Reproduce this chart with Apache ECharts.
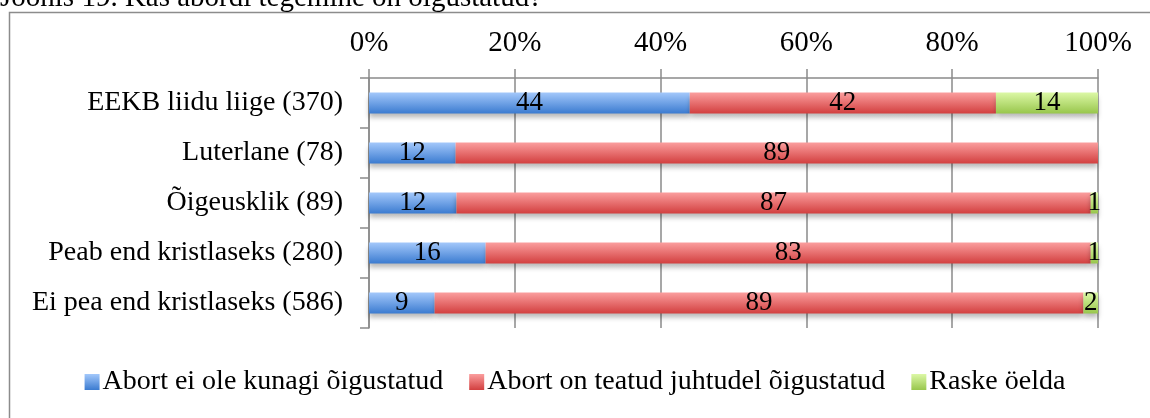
<!DOCTYPE html>
<html>
<head>
<meta charset="utf-8">
<script src="https://cdn.jsdelivr.net/npm/echarts@6/dist/echarts.min.js"></script>
<style>
html,body{margin:0;padding:0;background:#fff;}
#c{width:1150px;height:418px;}
</style>
</head>
<body>
<div id="c"></div>
<script>
const titleText = 'Joonis 19. Kas abordi tegemine on õigustatud?';
const categories = ['EEKB liidu liige (370)', 'Luterlane (78)', 'Õigeusklik (89)', 'Peab end kristlaseks (280)', 'Ei pea end kristlaseks (586)'];
const seriesNames = ['Abort ei ole kunagi õigustatud', 'Abort on teatud juhtudel õigustatud', 'Raske öelda'];
const neverJustified = [44, 12, 12, 16, 9];
const sometimesJustified = [42, 89, 87, 83, 89];
const hardToSay = [14, 0, 1, 1, 2];
const xTicks = [0, 20, 40, 60, 80, 100];

const raw = [neverJustified, sometimesJustified, hardToSay];
const totals = categories.map((_, i) => raw.reduce((s, a) => s + a[i], 0));
const gradients = [
  ['#a3c8fb', '#3b7bd0'],
  ['#fb9e9e', '#d23f3f'],
  ['#dcf8a6', '#98c64c']
];
const font = 'Liberation Serif';

const chart = echarts.init(document.getElementById('c'));
chart.setOption({
  animation: false,
  backgroundColor: '#fff',
  graphic: [
    { type: 'rect', shape: { x: 9.5, y: 12.5, width: 1200, height: 500 }, style: { fill: 'none', stroke: '#8c8c8c', lineWidth: 1.5 }, z: -1 },
    { type: 'text', x: 0, y: 13, style: { text: titleText, font: '29px "Liberation Serif"', fill: '#000', textVerticalAlign: 'bottom' } }
  ],
  grid: { left: 369, right: 52, top: 78, height: 250 },
  xAxis: {
    type: 'value', position: 'top', min: 0, max: 100, interval: 20,
    axisLine: { show: true, lineStyle: { color: '#8a8a8a', width: 1.5 } },
    axisTick: { show: true, inside: false, length: 9, lineStyle: { color: '#8a8a8a', width: 1.5 } },
    splitLine: { show: true, lineStyle: { color: '#8a8a8a', width: 1.5 } },
    axisLabel: { formatter: v => xTicks.includes(v) ? v + '%' : '', fontFamily: font, fontSize: 29, color: '#000', margin: 20 }
  },
  yAxis: {
    type: 'category', inverse: true, data: categories,
    axisLine: { show: true, lineStyle: { color: '#8a8a8a', width: 1.5 } },
    axisTick: { show: true, length: 9, lineStyle: { color: '#8a8a8a', width: 1.5 } },
    axisLabel: { fontFamily: font, fontSize: 28, color: '#000', margin: 26 }
  },
  legend: {
    top: 363, left: 'center', icon: 'rect', itemWidth: 15, itemHeight: 16, itemGap: 26,
    itemStyle: { shadowBlur: 0, shadowOffsetY: 0, shadowColor: 'transparent' },
    textStyle: { fontFamily: font, fontSize: 28, color: '#000', padding: [0, 0, 0, -2] },
    data: seriesNames
  },
  series: seriesNames.map((name, k) => ({
    name, type: 'bar', stack: 'total', barWidth: 21,
    data: raw[k].map((v, i) => v / totals[i] * 100),
    itemStyle: {
      color: { type: 'linear', x: 0, y: 0, x2: 0, y2: 1, colorStops: [{ offset: 0, color: gradients[k][0] }, { offset: 1, color: gradients[k][1] }] },
      shadowColor: 'rgba(0,0,0,0.28)', shadowBlur: 5, shadowOffsetY: 4
    },
    label: {
      show: true, position: 'inside', color: '#000', fontFamily: font, fontSize: 27,
      formatter: p => raw[k][p.dataIndex] ? String(raw[k][p.dataIndex]) : ''
    },
    labelLayout: { hideOverlap: false }
  }))
});
</script>
</body>
</html>
